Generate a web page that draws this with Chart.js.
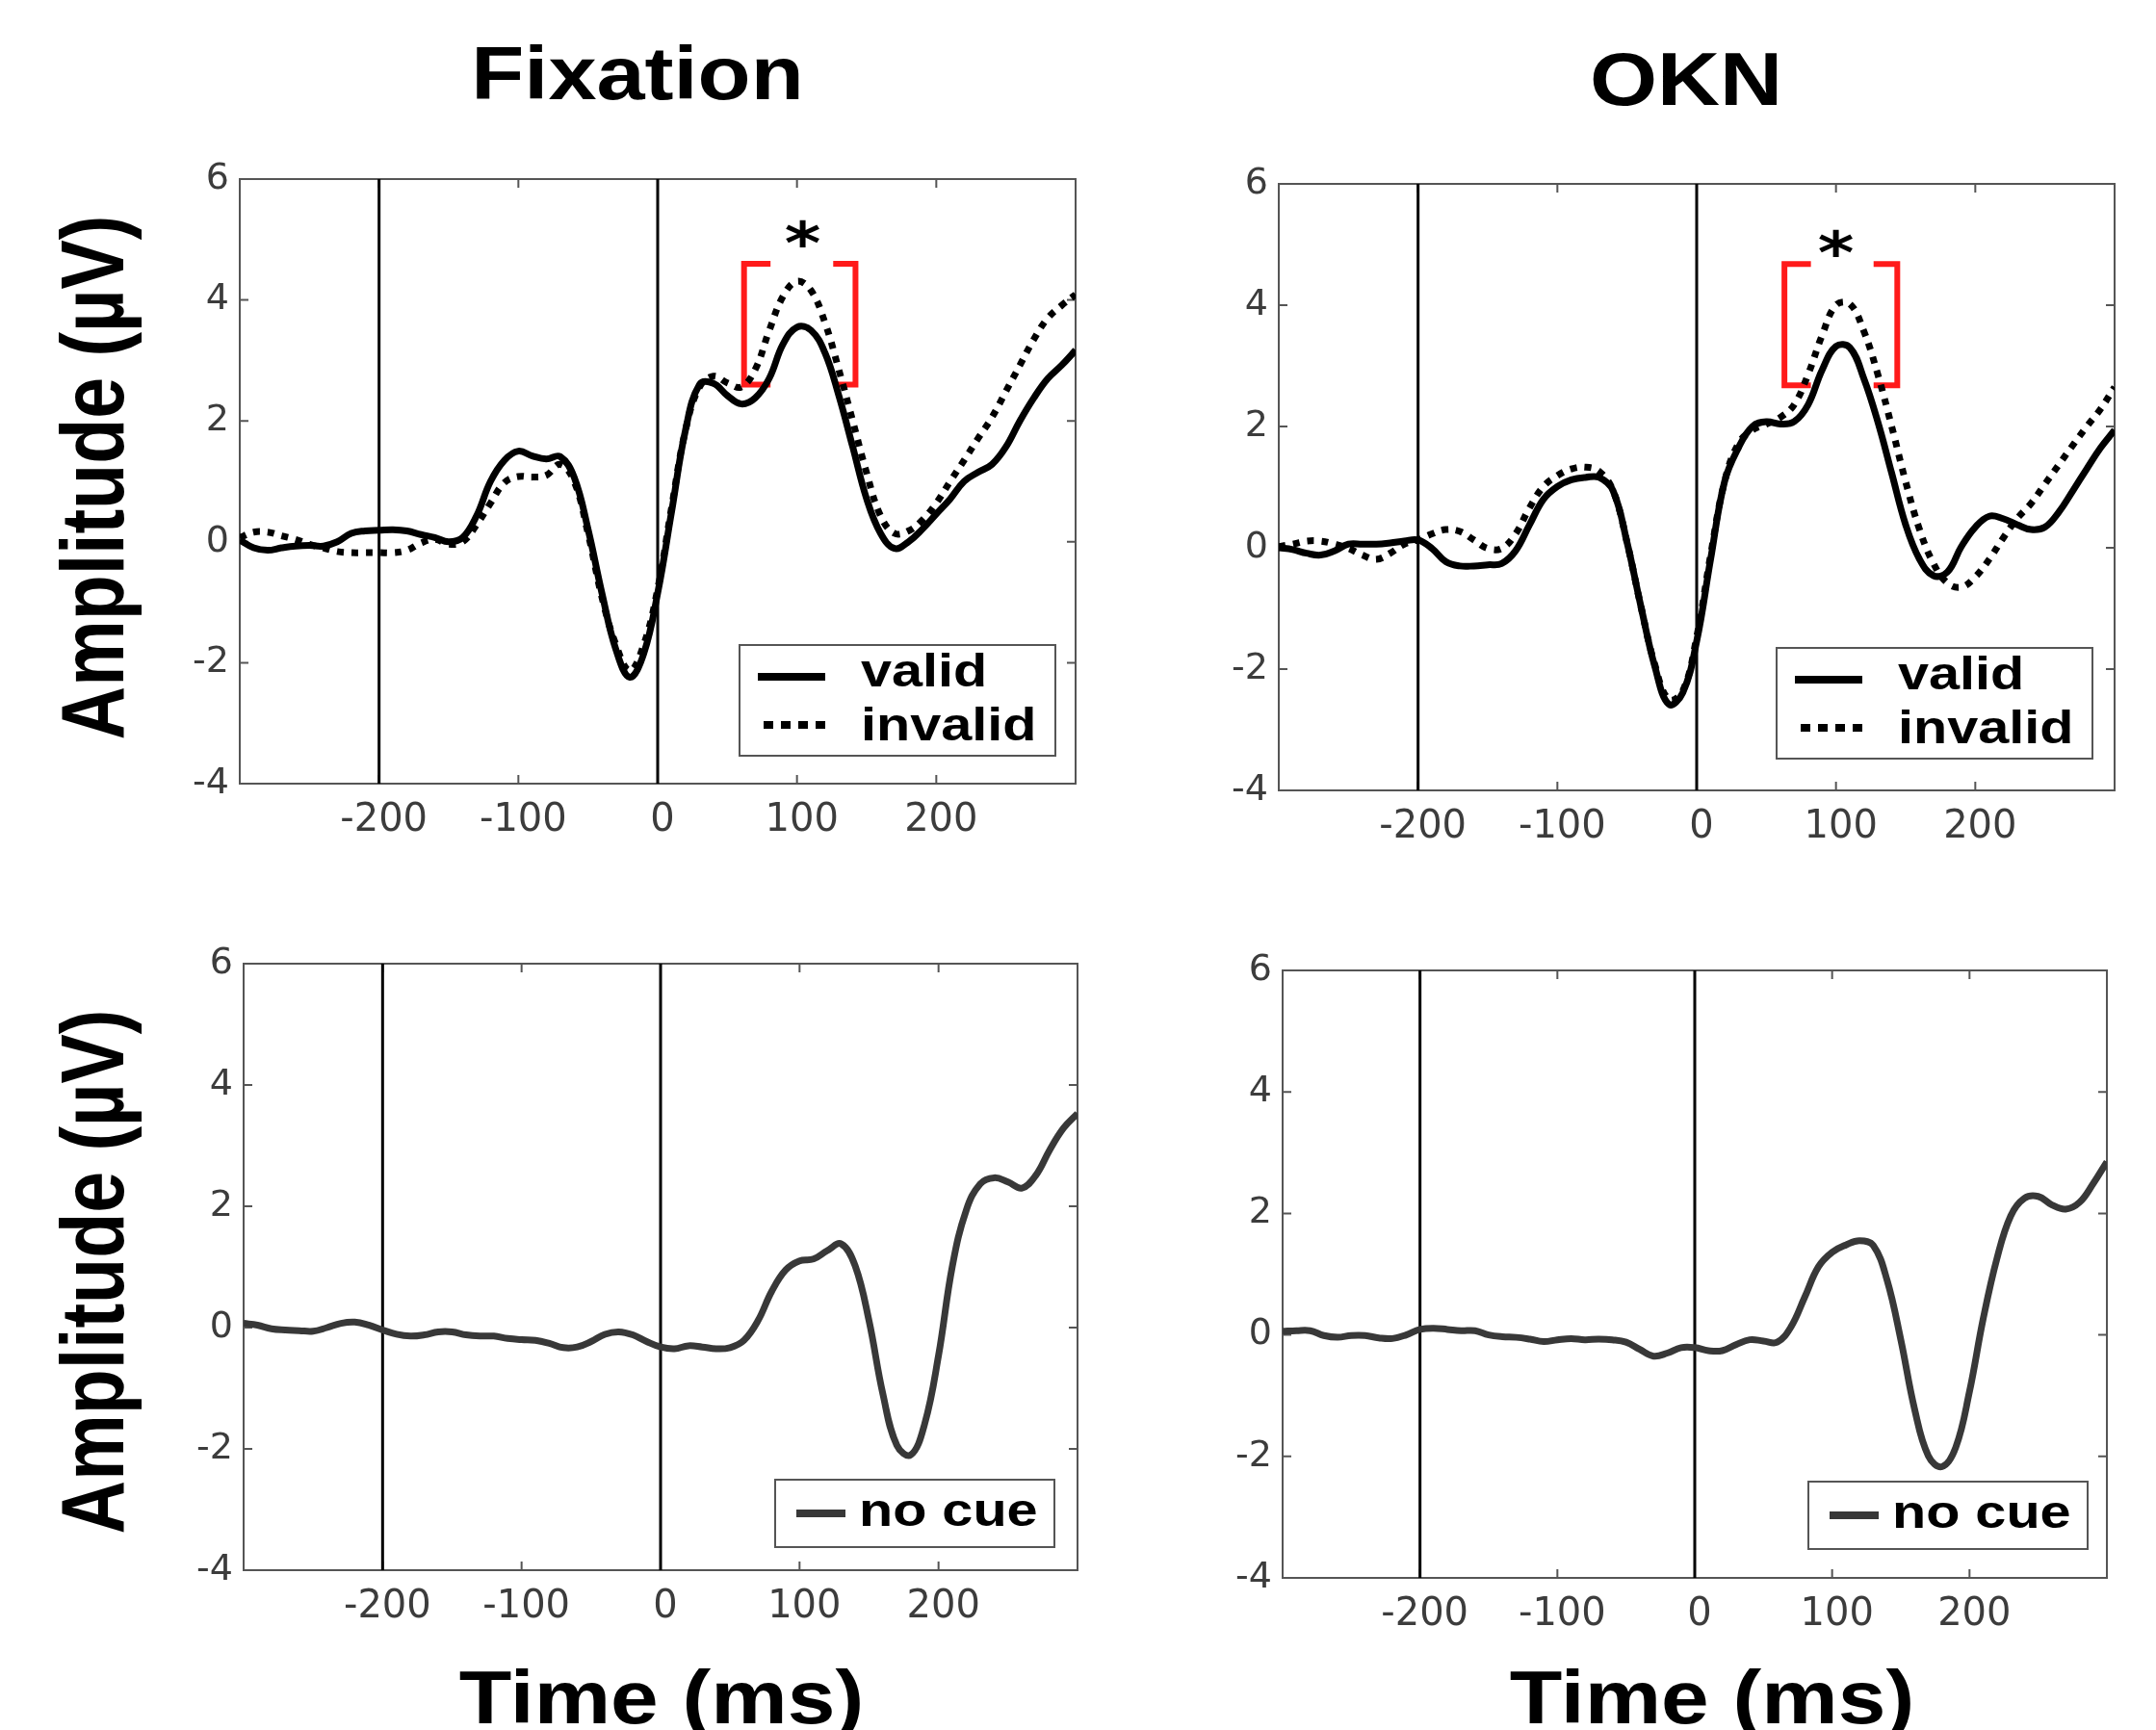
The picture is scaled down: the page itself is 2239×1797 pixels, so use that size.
<!DOCTYPE html>
<html>
<head>
<meta charset="utf-8">
<script src="https://cdn.jsdelivr.net/npm/chart.js@4.4.1/dist/chart.umd.min.js"></script>
<style>
  html, body { margin: 0; padding: 0; background: #fff; }
  #page { position: relative; width: 2239px; height: 1797px; overflow: hidden; background: #fff; }
  canvas { position: absolute; }
  .lbl { position: absolute; width: 0; height: 0; }
  .lbl span {
    position: absolute; left: 0; top: 0; white-space: nowrap;
    font-family: "Liberation Sans", Arial, sans-serif; font-weight: bold;
    font-size: 77px; line-height: 1; color: #000; transform-origin: 0 0;
  }
</style>
</head>
<body>
<div id="page">
  <canvas id="fixTop"></canvas>
  <canvas id="oknTop"></canvas>
  <canvas id="fixBottom"></canvas>
  <canvas id="oknBottom"></canvas>

  <div class="lbl" style="left:662px;top:76px"><span style="transform:scaleX(1.17) translate(-50%,-50%)">Fixation</span></div>
  <div class="lbl" style="left:1751px;top:82px"><span style="transform:scaleX(1.17) translate(-50%,-50%)">OKN</span></div>
  <div class="lbl" style="left:96px;top:496px"><span style="transform:scaleX(1.2) rotate(-90deg) translate(-50%,-50%)">Amplitude (µV)</span></div>
  <div class="lbl" style="left:96px;top:1321px"><span style="transform:scaleX(1.2) rotate(-90deg) translate(-50%,-50%)">Amplitude (µV)</span></div>
  <div class="lbl" style="left:687px;top:1763px"><span style="transform:scaleX(1.16) translate(-50%,-50%)">Time (ms)</span></div>
  <div class="lbl" style="left:1778px;top:1763px"><span style="transform:scaleX(1.16) translate(-50%,-50%)">Time (ms)</span></div>
</div>

<script>
// time axis (ms), one sample every 10 ms
const timeMs = [
  -300, -290, -280, -270, -260, -250, -240, -230, -220, -210,
  -200, -190, -180, -170, -160, -150, -140, -130, -120, -110,
  -100, -90, -80, -70, -60, -50, -40, -30, -20, -10,
  0, 10, 20, 30, 40, 50, 60, 70, 80, 90,
  100, 110, 120, 130, 140, 150, 160, 170, 180, 190,
  200, 210, 220, 230, 240, 250, 260, 270, 280, 290, 300
];

// Fixation, valid / invalid cue (µV)
const fixValid = [
  0.03, -0.10, -0.14, -0.10, -0.07, -0.06, -0.07, 0.00, 0.14, 0.18,
  0.19, 0.20, 0.18, 0.12, 0.07, 0.00, 0.07, 0.43, 1.00, 1.35,
  1.50, 1.42, 1.37, 1.41, 1.07, 0.21, -0.85, -1.78, -2.24, -1.85,
  -0.85, 0.50, 1.85, 2.60, 2.62, 2.42, 2.28, 2.38, 2.70, 3.27,
  3.55, 3.50, 3.13, 2.42, 1.57, 0.71, 0.14, -0.11, 0.00, 0.21,
  0.46, 0.71, 1.00, 1.15, 1.28, 1.57, 2.00, 2.38, 2.70, 2.92, 3.17
];
const fixInvalid = [
  0.07, 0.16, 0.16, 0.10, 0.04, -0.04, -0.10, -0.16, -0.18, -0.18,
  -0.18, -0.18, -0.14, -0.02, 0.04, -0.04, 0.00, 0.28, 0.64, 0.98,
  1.08, 1.07, 1.10, 1.28, 1.00, 0.14, -0.92, -1.70, -2.13, -1.70,
  -0.78, 0.57, 1.85, 2.56, 2.74, 2.63, 2.56, 2.85, 3.49, 4.06,
  4.31, 4.16, 3.63, 2.85, 2.00, 1.14, 0.43, 0.14, 0.18, 0.36,
  0.64, 1.00, 1.35, 1.71, 2.06, 2.49, 2.92, 3.35, 3.70, 3.91, 4.09
];

// OKN, valid / invalid cue (µV)
const oknValid = [
  0.00, -0.03, -0.09, -0.12, -0.05, 0.06, 0.06, 0.06, 0.08, 0.11,
  0.13, -0.01, -0.23, -0.30, -0.30, -0.28, -0.26, -0.05, 0.38, 0.80,
  1.01, 1.12, 1.16, 1.16, 0.94, 0.09, -0.97, -1.96, -2.58, -2.39,
  -1.54, -0.19, 1.09, 1.65, 2.00, 2.08, 2.04, 2.08, 2.36, 2.93,
  3.32, 3.30, 2.79, 2.08, 1.23, 0.38, -0.19, -0.46, -0.40, 0.02,
  0.34, 0.52, 0.48, 0.38, 0.30, 0.34, 0.59, 0.94, 1.30, 1.65, 1.94
];
const oknInvalid = [
  0.02, 0.06, 0.11, 0.11, 0.06, -0.01, -0.12, -0.19, -0.09, 0.06,
  0.13, 0.23, 0.30, 0.27, 0.13, -0.01, -0.01, 0.23, 0.66, 1.01,
  1.19, 1.30, 1.33, 1.26, 0.94, 0.09, -0.97, -1.93, -2.50, -2.36,
  -1.47, -0.12, 1.09, 1.72, 1.94, 2.04, 2.15, 2.36, 2.86, 3.50,
  4.00, 4.02, 3.57, 2.86, 2.00, 1.09, 0.30, -0.26, -0.58, -0.65,
  -0.48, -0.19, 0.16, 0.48, 0.73, 1.05, 1.37, 1.69, 2.00, 2.29, 2.65
];

// no cue (µV)
const fixNoCue = [
  0.07, 0.04, -0.02, -0.04, -0.05, -0.06, 0.00, 0.07, 0.09, 0.04,
  -0.04, -0.11, -0.14, -0.12, -0.07, -0.07, -0.12, -0.14, -0.14, -0.18,
  -0.20, -0.21, -0.26, -0.33, -0.32, -0.23, -0.11, -0.07, -0.12, -0.23,
  -0.32, -0.35, -0.30, -0.32, -0.35, -0.33, -0.21, 0.11, 0.60, 0.95,
  1.10, 1.13, 1.27, 1.38, 1.02, 0.11, -1.10, -1.94, -2.10, -1.59,
  -0.46, 1.02, 1.94, 2.37, 2.47, 2.40, 2.30, 2.51, 2.93, 3.29, 3.53
];
const oknNoCue = [
  0.06, 0.07, 0.07, -0.01, -0.04, -0.01, -0.01, -0.05, -0.06, 0.00,
  0.09, 0.11, 0.09, 0.07, 0.07, 0.00, -0.03, -0.04, -0.07, -0.11,
  -0.08, -0.06, -0.08, -0.07, -0.08, -0.12, -0.24, -0.35, -0.30, -0.21,
  -0.21, -0.26, -0.26, -0.16, -0.08, -0.10, -0.12, 0.13, 0.62, 1.12,
  1.36, 1.48, 1.55, 1.47, 0.90, -0.08, -1.22, -1.99, -2.17, -1.85,
  -0.93, 0.27, 1.26, 1.96, 2.25, 2.28, 2.14, 2.07, 2.18, 2.49, 2.85
];

// axes
const xTicks = [-200, -100, 0, 100, 200];
const yTicks = [-4, -2, 0, 2, 4, 6];
const markerTimes = [-200, 0];

// significance brackets: x = [left, left serif end, right serif start, right], y = [low, high]
const fixBracketX = [62, 81, 126, 142];
const fixBracketY = [2.6, 4.6];
const oknBracketX = [63, 82, 127, 144];
const oknBracketY = [2.68, 4.68];
const fixStar = [104, 5.1];
const oknStar = [100, 5.02];

const PAD_L = 90, PAD_R = 30, PAD_T = 50, PAD_B = 80;
const AXIS_COLOR = '#555';
const TICK_COLOR = '#3c3c3c';
const DOTS = [7, 8];

function pts(values) {
  return values.map((v, i) => ({ x: timeMs[i], y: v }));
}

function curve(label, values, color, dash) {
  return {
    label: label, data: pts(values), borderColor: color, borderWidth: 7,
    borderDash: dash || [], borderCapStyle: 'butt', pointRadius: 0, tension: 0.4, fill: false
  };
}

function markerLines() {
  return markerTimes.map(t => ({
    label: 'marker', data: [{ x: t, y: yTicks[0] }, { x: t, y: yTicks[yTicks.length - 1] }],
    borderColor: '#000', borderWidth: 3, pointRadius: 0, tension: 0
  }));
}

function bracket(bx, by) {
  const red = '#ff1a1a';
  return [
    { label: 'br', data: [{ x: bx[1], y: by[1] }, { x: bx[0], y: by[1] }, { x: bx[0], y: by[0] }, { x: bx[1], y: by[0] }],
      borderColor: red, borderWidth: 6, pointRadius: 0, tension: 0, borderJoinStyle: 'miter' },
    { label: 'br', data: [{ x: bx[2], y: by[1] }, { x: bx[3], y: by[1] }, { x: bx[3], y: by[0] }, { x: bx[2], y: by[0] }],
      borderColor: red, borderWidth: 6, pointRadius: 0, tension: 0, borderJoinStyle: 'miter' }
  ];
}

// frame with inward tick marks, like the original figure
const framePlugin = {
  id: 'frame',
  beforeDatasetsDraw(chart) {
    const { ctx, chartArea: a, scales } = chart;
    ctx.save();
    ctx.strokeStyle = AXIS_COLOR;
    ctx.lineWidth = 2;
    ctx.strokeRect(a.left, a.top, a.right - a.left, a.bottom - a.top);
    ctx.beginPath();
    xTicks.forEach(v => {
      const px = scales.x.getPixelForValue(v);
      ctx.moveTo(px, a.bottom); ctx.lineTo(px, a.bottom - 9);
      ctx.moveTo(px, a.top); ctx.lineTo(px, a.top + 9);
    });
    yTicks.forEach(v => {
      const py = scales.y.getPixelForValue(v);
      ctx.moveTo(a.left, py); ctx.lineTo(a.left + 9, py);
      ctx.moveTo(a.right, py); ctx.lineTo(a.right - 9, py);
    });
    ctx.stroke();
    ctx.restore();
  },
  afterDatasetsDraw(chart) {
    const { ctx, chartArea: a, scales } = chart;
    const opts = chart.options.plugins.frame;
    ctx.save();
    if (opts.star) {
      ctx.font = 'bold 60px "DejaVu Sans"';
      ctx.fillStyle = '#000';
      ctx.textAlign = 'center';
      ctx.textBaseline = 'alphabetic';
      ctx.translate(scales.x.getPixelForValue(opts.star[0]), scales.y.getPixelForValue(opts.star[1]) + 31);
      ctx.scale(1.2, 1);
      ctx.fillText('*', 0, 0);
      ctx.setTransform(1, 0, 0, 1, 0, 0);
    }
    // legend box
    const lg = opts.legend;
    const bx = a.right - lg.right - lg.w, by = a.bottom - lg.bottom - lg.h;
    ctx.fillStyle = '#fff';
    ctx.fillRect(bx, by, lg.w, lg.h);
    ctx.strokeStyle = AXIS_COLOR;
    ctx.lineWidth = 2;
    ctx.strokeRect(bx, by, lg.w, lg.h);
    lg.items.forEach((it, i) => {
      ctx.beginPath();
      ctx.strokeStyle = it.color;
      ctx.lineWidth = 8;
      ctx.lineCap = 'butt';
      ctx.setLineDash(it.dash || []);
      ctx.moveTo(bx + (it.dash ? lg.line[0] + 6 : lg.line[0]), by + lg.lineY[i]);
      ctx.lineTo(bx + lg.line[1], by + lg.lineY[i]);
      ctx.stroke();
      ctx.setLineDash([]);
      ctx.save();
      ctx.translate(bx + lg.textX, by + lg.textY[i]);
      ctx.scale(1.2, 1);
      ctx.font = 'bold 48px "Liberation Sans"';
      ctx.fillStyle = '#000';
      ctx.textAlign = 'left';
      ctx.textBaseline = 'alphabetic';
      ctx.fillText(it.label, 0, 0);
      ctx.restore();
    });
    ctx.restore();
  }
};

function makePanel(id, area, datasets, frameOpts) {
  const cv = document.getElementById(id);
  cv.width = area.w + PAD_L + PAD_R;
  cv.height = area.h + PAD_T + PAD_B;
  cv.style.left = (area.x - PAD_L) + 'px';
  cv.style.top = (area.y - PAD_T) + 'px';
  const tickFont = { family: 'DejaVu Sans', size: 40 };
  return new Chart(cv, {
    type: 'line',
    data: { datasets: datasets },
    options: {
      responsive: false,
      animation: false,
      devicePixelRatio: 1,
      layout: { padding: { top: PAD_T, right: PAD_R, left: 0, bottom: 0 } },
      plugins: { legend: { display: false }, tooltip: { enabled: false }, frame: frameOpts },
      scales: {
        x: {
          type: 'linear', min: -300, max: 300,
          afterBuildTicks: s => { s.ticks = xTicks.map(v => ({ value: v })); },
          afterFit: s => { s.height = PAD_B; },
          ticks: { font: tickFont, color: TICK_COLOR, padding: 15, labelOffset: 5, maxRotation: 0, autoSkip: false },
          grid: { display: false, drawTicks: false },
          border: { display: false }
        },
        y: {
          min: -4, max: 6,
          afterBuildTicks: s => { s.ticks = yTicks.map(v => ({ value: v })); },
          afterFit: s => { s.width = PAD_L; },
          ticks: { font: { family: 'DejaVu Sans', size: 38 }, color: TICK_COLOR, padding: 11 },
          grid: { display: false, drawTicks: false },
          border: { display: false }
        }
      }
    },
    plugins: [framePlugin]
  });
}

const pairLegend = (right, bottom) => ({
  w: 328, h: 115, right: right, bottom: bottom,
  line: [19, 89], lineY: [33, 83], textX: 126, textY: [43, 99],
  items: [
    { label: 'valid', color: '#000' },
    { label: 'invalid', color: '#000', dash: [10, 8] }
  ]
});
const noCueLegend = (right, bottom) => ({
  w: 290, h: 70, right: right, bottom: bottom,
  line: [22, 73], lineY: [35], textX: 87, textY: [48],
  items: [{ label: 'no cue', color: '#383838' }]
});

makePanel('fixTop', { x: 249, y: 186, w: 868, h: 628 },
  [curve('valid', fixValid, '#000'), curve('invalid', fixInvalid, '#000', DOTS)]
    .concat(bracket(fixBracketX, fixBracketY), markerLines()),
  { star: fixStar, legend: pairLegend(21, 29) });

makePanel('oknTop', { x: 1328, y: 191, w: 868, h: 630 },
  [curve('valid', oknValid, '#000'), curve('invalid', oknInvalid, '#000', DOTS)]
    .concat(bracket(oknBracketX, oknBracketY), markerLines()),
  { star: oknStar, legend: pairLegend(23, 33) });

makePanel('fixBottom', { x: 253, y: 1001, w: 866, h: 630 },
  [curve('no cue', fixNoCue, '#383838')].concat(markerLines()),
  { legend: noCueLegend(24, 24) });

makePanel('oknBottom', { x: 1332, y: 1008, w: 856, h: 631 },
  [curve('no cue', oknNoCue, '#383838')].concat(markerLines()),
  { legend: noCueLegend(20, 30) });
</script>
</body>
</html>
